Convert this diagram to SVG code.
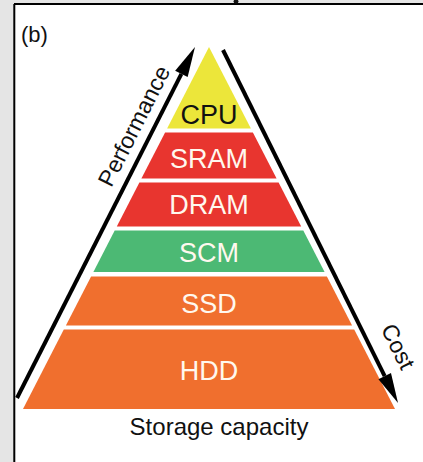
<svg xmlns="http://www.w3.org/2000/svg" width="423" height="462" viewBox="0 0 423 462">
  <style>
    .lbl { font-family: "Liberation Sans", Arial, sans-serif; font-size: 27px; text-anchor: middle; fill: #fff8ee; }
    .dark { fill: #111; }
    .axis { font-family: "Liberation Sans", Arial, sans-serif; font-size: 23px; text-anchor: middle; fill: #111; }
    .arrow { stroke: #000; stroke-width: 4; fill: none; }
  </style>
  <defs>
    <marker id="head" markerUnits="userSpaceOnUse" markerWidth="30" markerHeight="14" refX="0" refY="7" orient="auto" overflow="visible">
      <path d="M0,0 L30,7 L0,14 z" fill="#000"/>
    </marker>
  </defs>

  <!-- page frame -->
  <rect x="0" y="0" width="423" height="462" fill="#e5e5e5"/>
  <rect x="14" y="4" width="409" height="458" fill="#ffffff"/>
  <line x1="14.3" y1="4" x2="14.3" y2="462" stroke="#000" stroke-width="2"/>
  <line x1="14" y1="4" x2="423" y2="4" stroke="#000" stroke-width="2"/>
  <ellipse cx="236" cy="1.5" rx="2.5" ry="2" fill="#111"/>

  <text x="21" y="42" style="font-family: 'Liberation Sans', Arial, sans-serif; font-size: 22px; fill: #111;">(b)</text>

  <!-- pyramid levels -->
  <g id="cpu">
    <polygon points="209,47 250.9,128.5 167.1,128.5" fill="#ece63a"/>
    <text class="lbl dark" x="209" y="123.5">CPU</text>
  </g>
  <g id="sram">
    <polygon points="165.1,132.5 252.9,132.5 276.6,178.5 141.4,178.5" fill="#e8352f"/>
    <text class="lbl" x="209" y="168.3">SRAM</text>
  </g>
  <g id="dram">
    <polygon points="139.4,182.5 278.6,182.5 301.2,226.5 116.8,226.5" fill="#e8352f"/>
    <text class="lbl" x="209" y="213.5">DRAM</text>
  </g>
  <g id="scm">
    <polygon points="114.7,230.5 303.3,230.5 324.6,272 93.4,272" fill="#4cb974"/>
    <text class="lbl" x="209" y="262.3">SCM</text>
  </g>
  <g id="ssd">
    <polygon points="91.1,276.5 326.9,276.5 352.1,325.5 65.9,325.5" fill="#f06f2e"/>
    <text class="lbl" x="209" y="313.3">SSD</text>
  </g>
  <g id="hdd">
    <polygon points="63.8,329.5 354.2,329.5 395,409 23,409" fill="#f06f2e"/>
    <text class="lbl" x="209" y="380">HDD</text>
  </g>

  <!-- axes -->
  <g id="connectors">
    <line class="arrow" x1="17" y1="398" x2="181.4" y2="73.8" marker-end="url(#head)"/>
    <line class="arrow" x1="223" y1="50" x2="384.7" y2="376.1" marker-end="url(#head)"/>
  </g>
  <text class="axis" transform="translate(141,129.6) rotate(-63.1)">Performance</text>
  <text class="axis" transform="translate(391,350) rotate(63.6)">Cost</text>
  <text class="axis" x="219" y="435" style="font-size: 24px;">Storage capacity</text>
</svg>
